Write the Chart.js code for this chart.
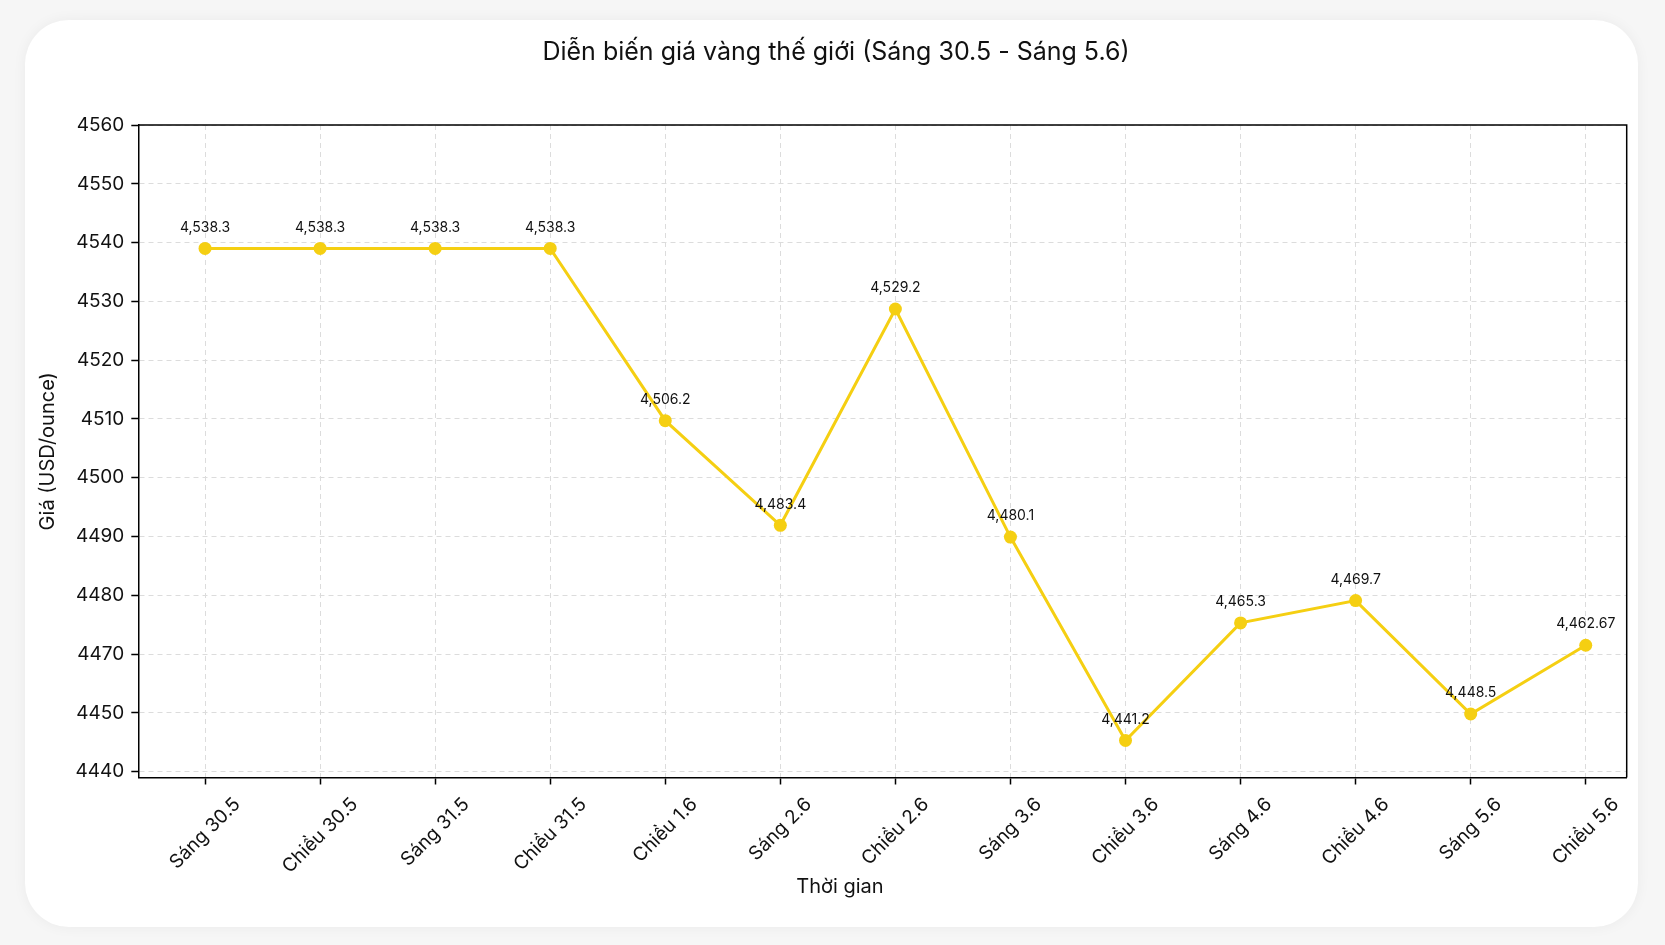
<!DOCTYPE html>
<html lang="vi">
<head>
<meta charset="UTF-8">
<title>Diễn biến giá vàng thế giới</title>
<script src="https://cdn.jsdelivr.net/npm/chart.js@4.4.1/dist/chart.umd.min.js"></script>
<style>
    html, body {
        margin: 0;
        padding: 0;
        background: #f6f6f6;
        width: 1665px;
        height: 945px;
        overflow: hidden;
    }
    .card {
        position: absolute;
        left: 25px;
        top: 20px;
        width: 1613px;
        height: 907px;
        background: #ffffff;
        border-radius: 44px;
        box-shadow: 0 0 14px rgba(0, 0, 0, 0.05);
    }
    #chart {
        position: absolute;
        left: 0;
        top: 0;
    }
</style>
</head>
<body>
<div class="card"></div>
<canvas id="chart" width="1665" height="945"></canvas>
<script>
// ** Datos del gráfico **
const timeLabels = ['Sáng 30.5', 'Chiều 30.5', 'Sáng 31.5', 'Chiều 31.5', 'Chiều 1.6', 'Sáng 2.6',
    'Chiều 2.6', 'Sáng 3.6', 'Chiều 3.6', 'Sáng 4.6', 'Chiều 4.6', 'Sáng 5.6', 'Chiều 5.6'];
// vị trí điểm đọc theo lưới trục
const goldPrices = [4539.0, 4539.0, 4539.0, 4539.0, 4509.7, 4491.9, 4528.7, 4489.9, 4455.3,
    4475.3, 4479.1, 4459.8, 4471.5];
// nhãn in trên từng điểm
const priceLabels = ['4,538.3', '4,538.3', '4,538.3', '4,538.3', '4,506.2', '4,483.4', '4,529.2',
    '4,480.1', '4,441.2', '4,465.3', '4,469.7', '4,448.5', '4,462.67'];
// nhãn trục y, từ dưới lên
const yTickLabels = ['4440', '4450', '4470', '4480', '4490', '4500', '4510', '4520', '4530',
    '4540', '4550', '4560'];

const chartTitle = 'Diễn biến giá vàng thế giới (Sáng 30.5 - Sáng 5.6)';
const xTitle = 'Thời gian';
const yTitle = 'Giá (USD/ounce)';

const FONT = 'Inter, "Noto Sans", sans-serif';
const GOLD = '#F5CF12';
const GRID = '#dcdcdc';

document.addEventListener('DOMContentLoaded', () => {
    const ctx = document.getElementById('chart').getContext('2d');

    // tiêu đề, khung trên/phải, nhãn trục x xoay, tiêu đề trục x
    const framePlugin = {
        id: 'framePlugin',
        afterDraw(chart) {
            const { ctx, chartArea } = chart;
            const xScale = chart.scales.x;
            ctx.save();
            ctx.strokeStyle = '#000';
            ctx.lineWidth = 1.5;
            ctx.beginPath();
            ctx.moveTo(chartArea.left, chartArea.top);
            ctx.lineTo(chartArea.right, chartArea.top);
            ctx.lineTo(chartArea.right, chartArea.bottom);
            ctx.stroke();

            ctx.fillStyle = '#111';
            ctx.textAlign = 'center';
            ctx.textBaseline = 'middle';
            ctx.font = `25px ${FONT}`;
            ctx.fillText(chartTitle, 836, 52);

            ctx.font = `19px ${FONT}`;
            const top = chartArea.bottom + 17;
            const s = Math.SQRT1_2;
            timeLabels.forEach((label, i) => {
                const w = ctx.measureText(label).width;
                const boxH = (w + 19) * s;
                const x = xScale.getPixelForValue(i);
                const y = top + boxH / 2;
                ctx.save();
                ctx.translate(x, y);
                ctx.rotate(-Math.PI / 4);
                ctx.fillText(label, 0, 0);
                ctx.restore();
            });

            ctx.font = `20px ${FONT}`;
            ctx.fillText(xTitle, 840, 887);
            ctx.restore();
        },
        afterDatasetsDraw(chart) {
            const { ctx } = chart;
            const meta = chart.getDatasetMeta(0);
            ctx.save();
            ctx.fillStyle = '#111';
            ctx.font = `14px ${FONT}`;
            ctx.textAlign = 'center';
            ctx.textBaseline = 'middle';
            meta.data.forEach((pt, i) => {
                ctx.fillText(priceLabels[i], pt.x, pt.y - 21);
            });
            ctx.restore();
        }
    };

    new Chart(ctx, {
        type: 'line',
        data: {
            datasets: [{
                label: 'Giá vàng',
                data: goldPrices.map((v, i) => ({ x: i, y: v })),
                borderColor: GOLD,
                backgroundColor: GOLD,
                borderWidth: 3,
                pointRadius: 6.5,
                pointHoverRadius: 6.5,
                pointBorderWidth: 0,
                pointBackgroundColor: GOLD,
                tension: 0
            }]
        },
        options: {
            responsive: false,
            animation: false,
            layout: { padding: { left: 0, right: 38.3, top: 125, bottom: 0 } },
            plugins: {
                legend: { display: false },
                tooltip: { enabled: false },
                title: { display: false }
            },
            scales: {
                x: {
                    type: 'linear',
                    min: -0.58,
                    max: 12.356,
                    afterBuildTicks: (scale) => {
                        scale.ticks = timeLabels.map((_, i) => ({ value: i }));
                    },
                    afterFit: (scale) => { scale.height = 167.5; },
                    ticks: { display: false, stepSize: 1 },
                    grid: {
                        color: GRID,
                        lineWidth: 1,
                        tickLength: 7,
                        tickColor: '#000',
                        tickWidth: 1.5,
                        tickBorderDash: []
                    },
                    border: { display: true, color: '#000', width: 1.5, dash: [5, 4] }
                },
                y: {
                    type: 'linear',
                    min: 4449,
                    max: 4560,
                    afterBuildTicks: (scale) => {
                        scale.ticks = yTickLabels.map((_, i) => ({ value: 4450 + i * 10 }));
                    },
                    afterFit: (scale) => { scale.width = 138.3; },
                    ticks: {
                        color: '#111',
                        padding: 7,
                        font: { family: FONT, size: 19 },
                        callback: (value) => yTickLabels[Math.round((value - 4450) / 10)]
                    },
                    grid: {
                        color: GRID,
                        lineWidth: 1,
                        tickLength: 7,
                        tickColor: '#000',
                        tickWidth: 1.5,
                        tickBorderDash: []
                    },
                    border: { display: true, color: '#000', width: 1.5, dash: [5, 4] },
                    title: {
                        display: true,
                        text: yTitle,
                        color: '#111',
                        font: { family: FONT, size: 20 },
                        padding: { top: 36, bottom: 0 }
                    }
                }
            }
        },
        plugins: [framePlugin]
    });
});
</script>
</body>
</html>
